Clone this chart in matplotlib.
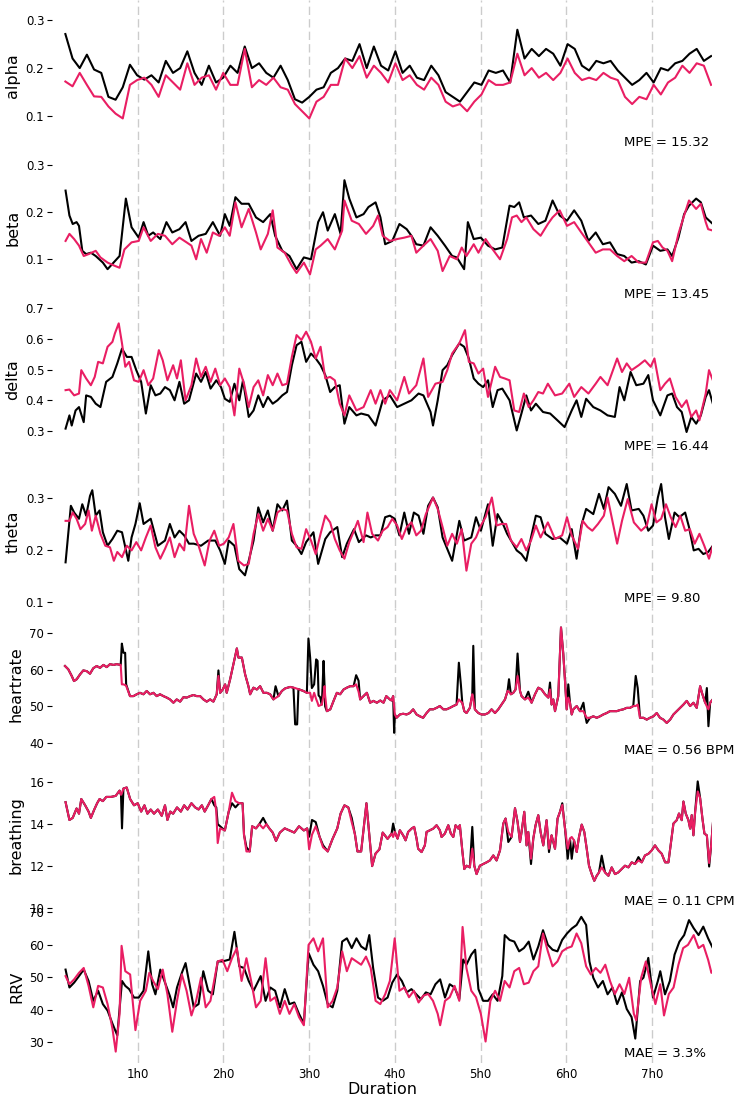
import numpy as np
import matplotlib
matplotlib.use("Agg")
import matplotlib.pyplot as plt

# alpha: one reading every ~5 min, from ~9 min to ~7h41
n_epochs = 91
hours = 0.156 + 0.0837 * np.arange(n_epochs)

alpha_ref = [0.271, 0.22, 0.2, 0.228, 0.197, 0.19, 0.14, 0.134, 0.16, 0.207, 0.185,
             0.176, 0.185, 0.17, 0.215, 0.19, 0.2, 0.235, 0.19, 0.165, 0.205, 0.17,
             0.18, 0.205, 0.19, 0.245, 0.2, 0.21, 0.19, 0.18, 0.205, 0.175, 0.135,
             0.128, 0.14, 0.155, 0.16, 0.19, 0.2, 0.22, 0.215, 0.25, 0.2, 0.245,
             0.205, 0.195, 0.235, 0.19, 0.205, 0.18, 0.175, 0.205, 0.185, 0.15, 0.14,
             0.13, 0.15, 0.17, 0.165, 0.195, 0.19, 0.195, 0.17, 0.28, 0.22, 0.24,
             0.225, 0.24, 0.23, 0.205, 0.25, 0.24, 0.205, 0.195, 0.215, 0.21, 0.215,
             0.195, 0.18, 0.165, 0.175, 0.19, 0.17, 0.2, 0.195, 0.21, 0.215, 0.23,
             0.24, 0.215, 0.225]
alpha_est = [0.172, 0.162, 0.19, 0.165, 0.141, 0.14, 0.12, 0.105, 0.095, 0.165, 0.175,
             0.18, 0.165, 0.14, 0.185, 0.17, 0.155, 0.21, 0.165, 0.18, 0.185, 0.155,
             0.19, 0.165, 0.165, 0.24, 0.16, 0.175, 0.165, 0.18, 0.16, 0.155, 0.125,
             0.11, 0.095, 0.13, 0.14, 0.165, 0.165, 0.22, 0.2, 0.225, 0.18, 0.205,
             0.19, 0.17, 0.21, 0.175, 0.185, 0.165, 0.155, 0.18, 0.165, 0.13, 0.12,
             0.125, 0.11, 0.13, 0.145, 0.175, 0.165, 0.165, 0.17, 0.23, 0.185, 0.2,
             0.18, 0.19, 0.175, 0.19, 0.22, 0.19, 0.175, 0.18, 0.175, 0.19, 0.18,
             0.175, 0.14, 0.125, 0.14, 0.135, 0.165, 0.145, 0.17, 0.18, 0.205, 0.19,
             0.21, 0.205, 0.165]

# beta, delta, theta: irregular breakpoints (minutes)
beta_ref_min = [9.5, 12.2, 14.5, 17.2, 18.9, 21.2, 23.9, 27.2, 30.6, 35.6, 38.9, 44.0,
                47.3, 51.7, 55.7, 60.7, 64.1, 67.4, 70.8, 75.8, 80.1, 84.2, 89.2, 93.5,
                97.6, 102.6, 107.6, 112.6, 117.7, 121.0, 124.4, 128.4, 132.7, 137.7,
                142.8, 147.8, 152.8, 156.2, 161.2, 166.2, 171.2, 176.3, 181.3, 186.3,
                189.7, 193.0, 198.0, 202.0, 204.7, 208.1, 213.1, 218.1, 221.5, 226.5,
                229.9, 233.2, 238.2, 243.2, 248.3, 251.6, 255.0, 260.0, 265.0, 270.0,
                275.1, 280.1, 283.4, 288.5, 291.1, 295.2, 300.2, 305.2, 310.2, 315.2,
                320.3, 323.6, 327.0, 330.3, 335.3, 340.4, 345.4, 350.4, 355.4, 360.5,
                365.5, 370.5, 375.5, 380.6, 385.6, 390.6, 395.6, 400.6, 405.7, 410.7,
                415.7, 420.7, 425.8, 430.8, 434.1, 438.5, 442.5, 445.9, 450.9, 454.2,
                457.6, 462.6]
beta_ref = [0.246, 0.193, 0.175, 0.179, 0.171, 0.118, 0.111, 0.114, 0.107, 0.093, 0.079,
            0.096, 0.107, 0.229, 0.168, 0.146, 0.179, 0.15, 0.157, 0.143, 0.179, 0.157,
            0.164, 0.179, 0.139, 0.15, 0.154, 0.179, 0.15, 0.196, 0.171, 0.232, 0.218,
            0.218, 0.189, 0.179, 0.196, 0.15, 0.118, 0.107, 0.079, 0.104, 0.1, 0.179,
            0.2, 0.161, 0.196, 0.154, 0.268, 0.229, 0.189, 0.196, 0.211, 0.221, 0.189,
            0.132, 0.139, 0.175, 0.164, 0.15, 0.132, 0.129, 0.168, 0.15, 0.129, 0.107,
            0.104, 0.079, 0.179, 0.143, 0.146, 0.129, 0.121, 0.125, 0.214, 0.211, 0.221,
            0.189, 0.193, 0.175, 0.182, 0.225, 0.193, 0.182, 0.204, 0.182, 0.139, 0.157,
            0.132, 0.136, 0.111, 0.107, 0.093, 0.096, 0.089, 0.129, 0.118, 0.121, 0.107,
            0.146, 0.196, 0.214, 0.229, 0.221, 0.189, 0.175]
beta_est_min = [9.5, 12.2, 15.5, 18.9, 22.2, 25.6, 30.6, 33.9, 38.9, 44.0, 47.3, 50.7,
                55.7, 60.7, 64.1, 69.1, 74.1, 79.1, 84.2, 89.2, 94.2, 97.6, 100.9, 104.3,
                108.3, 112.6, 117.0, 121.0, 124.4, 128.4, 132.7, 137.7, 142.8, 146.1,
                151.1, 154.5, 157.8, 162.9, 167.9, 171.2, 176.3, 180.6, 184.6, 188.0,
                193.0, 198.0, 203.1, 204.7, 209.8, 214.8, 219.8, 224.8, 228.2, 231.5,
                236.5, 241.6, 246.6, 251.6, 255.0, 260.0, 265.0, 270.0, 273.4, 278.4,
                283.4, 286.8, 290.1, 295.2, 298.5, 303.5, 308.5, 313.6, 318.6, 322.0,
                325.3, 328.6, 332.0, 337.0, 342.0, 347.1, 350.4, 355.4, 360.5, 365.5,
                370.5, 375.5, 380.6, 385.6, 390.6, 395.6, 400.6, 405.7, 410.7, 415.7,
                420.7, 424.1, 427.4, 430.8, 434.1, 438.5, 442.5, 445.9, 450.9, 454.2,
                457.6, 459.3, 462.6]
beta_est = [0.139, 0.154, 0.143, 0.129, 0.107, 0.111, 0.118, 0.104, 0.093, 0.086, 0.082,
            0.121, 0.136, 0.139, 0.168, 0.139, 0.154, 0.15, 0.132, 0.146, 0.136, 0.129,
            0.1, 0.143, 0.114, 0.157, 0.15, 0.168, 0.15, 0.221, 0.168, 0.207, 0.157,
            0.121, 0.154, 0.204, 0.125, 0.114, 0.086, 0.071, 0.093, 0.068, 0.121, 0.129,
            0.143, 0.121, 0.161, 0.225, 0.182, 0.175, 0.154, 0.171, 0.193, 0.15, 0.139,
            0.143, 0.146, 0.15, 0.114, 0.129, 0.143, 0.118, 0.075, 0.107, 0.1, 0.125,
            0.107, 0.132, 0.114, 0.143, 0.121, 0.1, 0.143, 0.189, 0.193, 0.179, 0.189,
            0.164, 0.15, 0.175, 0.189, 0.204, 0.171, 0.179, 0.157, 0.136, 0.114, 0.121,
            0.121, 0.107, 0.096, 0.107, 0.093, 0.093, 0.136, 0.139, 0.125, 0.118, 0.096,
            0.154, 0.193, 0.225, 0.207, 0.218, 0.179, 0.164, 0.161]

delta_ref_min = [9.5, 12.2, 13.8, 16.5, 18.9, 22.2, 23.9, 27.2, 30.6, 33.9, 37.9, 42.3,
                 45.7, 49.0, 52.4, 55.7, 59.0, 62.4, 65.7, 69.1, 72.4, 75.8, 79.1, 82.5,
                 85.8, 89.2, 92.5, 95.9, 100.9, 104.3, 107.6, 111.0, 115.0, 118.3, 121.0,
                 124.4, 127.7, 131.1, 133.7, 137.7, 141.1, 144.4, 147.8, 151.1, 154.5,
                 157.8, 161.2, 164.5, 167.9, 171.2, 174.6, 177.9, 181.3, 184.6, 188.0,
                 191.3, 194.7, 198.0, 201.4, 204.7, 208.1, 213.1, 216.4, 221.5, 226.5,
                 231.5, 236.5, 241.6, 246.6, 251.6, 256.6, 260.0, 265.0, 266.7, 270.0,
                 273.4, 276.7, 280.1, 285.1, 288.5, 291.8, 295.2, 298.5, 301.8, 305.2,
                 308.5, 311.9, 315.2, 320.3, 325.3, 328.6, 332.0, 335.3, 338.7, 343.7,
                 348.7, 353.8, 358.8, 363.8, 367.2, 370.5, 373.9, 378.9, 383.9, 388.9,
                 394.0, 397.3, 400.6, 405.0, 409.0, 414.0, 417.4, 420.7, 425.8, 430.8,
                 434.1, 437.5, 440.8, 444.2, 447.5, 450.9, 454.2, 457.6, 459.9, 462.6]
delta_ref = [0.308, 0.351, 0.318, 0.367, 0.378, 0.329, 0.416, 0.411, 0.389, 0.378, 0.46,
             0.476, 0.52, 0.568, 0.541, 0.541, 0.498, 0.46, 0.357, 0.449, 0.416, 0.422,
             0.443, 0.433, 0.4, 0.46, 0.389, 0.4, 0.487, 0.46, 0.492, 0.438, 0.465,
             0.443, 0.405, 0.395, 0.454, 0.4, 0.465, 0.346, 0.367, 0.416, 0.378, 0.411,
             0.389, 0.4, 0.416, 0.427, 0.514, 0.579, 0.59, 0.525, 0.552, 0.536, 0.514,
             0.482, 0.427, 0.443, 0.449, 0.324, 0.378, 0.351, 0.357, 0.351, 0.318, 0.4,
             0.416, 0.378, 0.389, 0.4, 0.422, 0.416, 0.362, 0.318, 0.4, 0.498, 0.514,
             0.547, 0.585, 0.574, 0.536, 0.471, 0.454, 0.443, 0.465, 0.378, 0.433, 0.438,
             0.4, 0.302, 0.357, 0.416, 0.367, 0.389, 0.362, 0.357, 0.335, 0.313, 0.367,
             0.4, 0.346, 0.405, 0.378, 0.367, 0.351, 0.346, 0.443, 0.4, 0.492, 0.449,
             0.454, 0.482, 0.4, 0.351, 0.416, 0.422, 0.378, 0.362, 0.297, 0.346, 0.324,
             0.351, 0.411, 0.433, 0.389]
delta_est_min = [9.5, 12.2, 15.5, 18.9, 20.5, 23.9, 27.2, 29.9, 32.3, 35.6, 38.9, 42.3,
                 44.0, 46.7, 49.0, 51.3, 54.0, 57.4, 60.7, 64.1, 67.4, 70.8, 74.8, 77.5,
                 80.8, 84.8, 87.5, 90.2, 93.5, 97.6, 100.9, 104.3, 107.6, 111.0, 114.3,
                 117.7, 121.0, 124.4, 127.7, 131.1, 134.4, 137.7, 141.1, 144.4, 147.8,
                 151.1, 154.5, 157.8, 161.2, 164.5, 167.9, 171.2, 174.6, 177.9, 181.3,
                 184.6, 188.0, 191.3, 194.7, 198.0, 201.4, 204.7, 208.1, 213.1, 218.1,
                 223.1, 226.5, 229.9, 233.2, 236.5, 241.6, 246.6, 249.9, 255.0, 260.0,
                 263.3, 268.4, 273.4, 276.7, 280.1, 285.1, 289.1, 291.8, 295.2, 298.5,
                 301.8, 305.2, 310.2, 313.6, 316.9, 320.3, 323.6, 327.0, 330.3, 333.7,
                 337.0, 340.4, 343.7, 347.1, 352.1, 357.1, 362.1, 365.5, 370.5, 375.5,
                 380.6, 383.9, 388.9, 395.6, 399.0, 402.3, 405.7, 410.7, 415.0, 419.1,
                 421.7, 425.8, 429.1, 432.5, 436.5, 440.8, 444.2, 447.5, 450.9, 453.2,
                 457.6, 459.9, 462.6]
delta_est = [0.433, 0.435, 0.416, 0.422, 0.498, 0.471, 0.449, 0.476, 0.525, 0.52, 0.574,
             0.59, 0.617, 0.65, 0.585, 0.509, 0.525, 0.465, 0.46, 0.498, 0.449, 0.471,
             0.563, 0.53, 0.465, 0.514, 0.471, 0.53, 0.4, 0.449, 0.536, 0.476, 0.509,
             0.46, 0.503, 0.449, 0.471, 0.443, 0.351, 0.503, 0.454, 0.378, 0.443, 0.465,
             0.416, 0.482, 0.449, 0.487, 0.449, 0.454, 0.541, 0.612, 0.596, 0.623, 0.59,
             0.536, 0.574, 0.471, 0.476, 0.465, 0.389, 0.351, 0.416, 0.367, 0.378, 0.433,
             0.389, 0.433, 0.389, 0.433, 0.4, 0.476, 0.422, 0.449, 0.536, 0.411, 0.454,
             0.46, 0.498, 0.552, 0.585, 0.628, 0.525, 0.52, 0.487, 0.503, 0.411, 0.509,
             0.476, 0.471, 0.465, 0.367, 0.362, 0.422, 0.378, 0.4, 0.427, 0.422, 0.454,
             0.416, 0.422, 0.454, 0.411, 0.443, 0.422, 0.454, 0.476, 0.449, 0.536, 0.492,
             0.52, 0.498, 0.514, 0.53, 0.509, 0.536, 0.433, 0.454, 0.471, 0.411, 0.378,
             0.4, 0.346, 0.367, 0.335, 0.422, 0.498, 0.465]

theta_ref_min = [9.5, 13.2, 15.5, 18.9, 21.2, 23.9, 26.6, 28.2, 30.6, 33.3, 35.6, 38.9,
                 42.3, 45.7, 49.0, 53.4, 55.7, 58.4, 61.4, 64.1, 69.1, 74.1, 79.1, 82.5,
                 85.8, 89.2, 92.5, 95.9, 99.2, 104.3, 109.3, 114.3, 117.7, 121.0, 123.7,
                 127.7, 131.1, 135.1, 137.7, 141.1, 144.4, 147.8, 151.1, 154.5, 157.8,
                 161.2, 164.5, 167.9, 171.2, 174.6, 177.9, 183.0, 186.3, 191.3, 194.7,
                 199.7, 203.1, 206.4, 211.4, 214.8, 219.8, 223.1, 226.5, 229.9, 233.2,
                 236.5, 239.9, 243.2, 246.6, 249.9, 253.3, 256.6, 260.0, 263.3, 266.7,
                 270.0, 273.4, 276.7, 280.1, 285.1, 288.5, 293.5, 296.8, 300.2, 305.2,
                 308.5, 311.9, 315.2, 318.6, 322.0, 325.3, 328.6, 332.0, 335.3, 338.7,
                 342.0, 345.4, 350.4, 355.4, 360.5, 363.8, 367.2, 370.5, 373.9, 378.9,
                 382.9, 386.3, 389.6, 394.0, 398.3, 402.3, 405.7, 410.7, 414.0, 417.4,
                 420.7, 424.1, 426.4, 429.1, 431.8, 435.8, 439.2, 443.2, 445.9, 449.2,
                 452.6, 455.9, 459.3, 462.6]
theta_ref = [0.176, 0.285, 0.272, 0.26, 0.288, 0.266, 0.304, 0.315, 0.266, 0.276, 0.234,
             0.208, 0.221, 0.237, 0.234, 0.179, 0.224, 0.25, 0.29, 0.25, 0.26, 0.208,
             0.218, 0.25, 0.224, 0.237, 0.228, 0.212, 0.212, 0.208, 0.218, 0.218, 0.199,
             0.173, 0.218, 0.208, 0.163, 0.151, 0.179, 0.218, 0.282, 0.253, 0.276, 0.237,
             0.288, 0.276, 0.295, 0.218, 0.208, 0.192, 0.215, 0.234, 0.173, 0.221, 0.234,
             0.244, 0.186, 0.212, 0.24, 0.215, 0.228, 0.224, 0.228, 0.228, 0.263, 0.266,
             0.26, 0.228, 0.272, 0.231, 0.272, 0.266, 0.231, 0.285, 0.301, 0.282, 0.224,
             0.202, 0.179, 0.256, 0.218, 0.224, 0.263, 0.237, 0.288, 0.208, 0.269, 0.253,
             0.231, 0.215, 0.199, 0.192, 0.179, 0.224, 0.266, 0.263, 0.231, 0.221, 0.224,
             0.212, 0.24, 0.183, 0.247, 0.279, 0.269, 0.308, 0.279, 0.321, 0.308, 0.285,
             0.327, 0.276, 0.279, 0.266, 0.237, 0.247, 0.301, 0.327, 0.263, 0.221, 0.272,
             0.263, 0.272, 0.244, 0.199, 0.202, 0.192, 0.196, 0.208]
theta_est_min = [9.5, 12.2, 14.5, 17.2, 19.9, 23.2, 25.6, 27.9, 30.6, 33.9, 37.3, 40.6,
                 43.3, 45.7, 49.0, 52.4, 55.7, 59.0, 62.4, 65.7, 69.1, 72.4, 75.8, 79.1,
                 82.5, 85.8, 89.2, 92.5, 95.9, 99.2, 102.6, 106.9, 110.3, 113.6, 117.0,
                 120.3, 123.7, 127.0, 130.4, 134.4, 137.7, 141.1, 144.4, 147.8, 151.1,
                 154.5, 157.8, 161.2, 164.5, 167.9, 171.2, 174.6, 177.9, 181.3, 184.6,
                 188.0, 191.3, 194.7, 198.0, 201.4, 204.7, 208.1, 211.4, 214.1, 218.1,
                 220.8, 224.1, 228.2, 231.5, 234.9, 238.2, 241.6, 244.9, 248.3, 251.6,
                 255.0, 258.3, 261.7, 266.7, 270.0, 273.4, 276.7, 280.1, 283.4, 286.8,
                 290.1, 293.5, 296.8, 300.2, 303.5, 307.9, 311.2, 314.6, 317.9, 321.3,
                 325.3, 328.6, 332.0, 335.3, 338.7, 342.0, 347.1, 352.1, 357.1, 360.5,
                 363.8, 368.2, 371.5, 374.9, 378.2, 382.2, 386.3, 388.9, 392.3, 395.6,
                 399.0, 403.0, 407.3, 412.4, 416.4, 419.7, 423.1, 426.4, 429.8, 433.1,
                 436.5, 439.8, 443.2, 446.5, 449.9, 453.2, 456.6, 459.9, 462.6]
theta_est = [0.256, 0.256, 0.272, 0.26, 0.24, 0.25, 0.276, 0.237, 0.266, 0.231, 0.208,
             0.205, 0.179, 0.196, 0.186, 0.208, 0.199, 0.215, 0.199, 0.224, 0.247, 0.205,
             0.183, 0.202, 0.224, 0.186, 0.212, 0.199, 0.285, 0.231, 0.208, 0.17, 0.218,
             0.237, 0.208, 0.212, 0.224, 0.25, 0.179, 0.17, 0.173, 0.231, 0.269, 0.237,
             0.26, 0.237, 0.272, 0.279, 0.276, 0.231, 0.205, 0.202, 0.24, 0.218, 0.192,
             0.231, 0.266, 0.253, 0.221, 0.199, 0.183, 0.215, 0.237, 0.256, 0.215, 0.272,
             0.231, 0.218, 0.237, 0.244, 0.26, 0.247, 0.221, 0.244, 0.253, 0.228, 0.237,
             0.269, 0.301, 0.279, 0.244, 0.208, 0.231, 0.212, 0.24, 0.16, 0.212, 0.224,
             0.247, 0.263, 0.301, 0.247, 0.25, 0.25, 0.218, 0.205, 0.221, 0.199, 0.218,
             0.247, 0.224, 0.253, 0.221, 0.228, 0.263, 0.228, 0.202, 0.256, 0.244, 0.237,
             0.25, 0.266, 0.301, 0.256, 0.212, 0.256, 0.298, 0.253, 0.237, 0.247, 0.288,
             0.253, 0.26, 0.288, 0.263, 0.244, 0.266, 0.237, 0.24, 0.212, 0.231, 0.208,
             0.183, 0.208]

# heart rate: irregular breakpoints (minutes) so narrow spikes stay narrow
hr_min = [9.1, 11.4, 13.8, 15.4, 17.3, 19.6, 21.9, 24.3, 26.6, 28.9, 31.3, 33.6, 36.0,
          38.3, 40.6, 43.0, 45.3, 48.1, 48.9, 50.0, 51.2, 51.9, 54.6, 57.0, 59.3, 61.6,
          64.0, 66.3, 68.6, 71.0, 73.3, 75.6, 78.0, 80.3, 82.6, 85.0, 87.3, 89.7, 92.0,
          94.3, 96.7, 99.0, 101.3, 103.7, 106.0, 108.3, 110.7, 113.0, 115.3, 116.5, 117.7,
          119.5, 121.2, 122.3, 124.7, 127.0, 129.4, 130.5, 132.9, 135.2, 137.5, 138.7,
          141.0, 143.4, 145.7, 148.0, 150.4, 152.7, 155.0, 156.5, 158.5, 160.9, 163.2,
          166.7, 169.0, 170.2, 171.6, 172.5, 176.0, 178.4, 179.5, 180.7, 181.9, 183.5,
          184.9, 185.9, 186.6, 187.7, 188.9, 190.1, 190.8, 191.2, 192.4, 194.8, 197.1,
          199.4, 201.7, 204.1, 206.4, 208.7, 211.1, 212.9, 214.6, 215.7, 218.1, 220.4,
          222.7, 225.0, 227.4, 229.8, 232.1, 234.0, 236.5, 237.7, 238.8, 239.5, 240.0,
          241.2, 243.5, 245.8, 248.2, 250.5, 252.8, 255.2, 257.5, 259.8, 262.2, 264.5,
          266.9, 269.2, 271.5, 273.9, 276.2, 278.5, 280.9, 283.2, 284.8, 286.2, 287.2,
          288.6, 290.2, 292.5, 294.2, 294.9, 296.0, 298.4, 300.7, 303.0, 305.4, 307.7,
          310.1, 312.4, 314.7, 317.1, 318.9, 319.9, 321.2, 322.9, 324.5, 325.9, 327.6,
          328.7, 331.1, 333.4, 335.7, 338.1, 340.4, 342.7, 345.1, 347.4, 348.6, 349.7,
          350.9, 352.1, 354.4, 356.3, 357.9, 359.1, 360.3, 361.4, 362.6, 363.8, 364.9,
          367.3, 369.6, 372.0, 373.1, 374.3, 376.6, 378.9, 381.3, 383.6, 385.9, 388.3,
          390.6, 392.9, 395.3, 397.6, 399.9, 402.3, 404.6, 406.9, 408.6, 410.0, 411.6,
          414.0, 416.3, 418.6, 421.0, 423.3, 425.6, 428.0, 430.3, 432.7, 435.0, 437.3,
          439.7, 442.0, 444.3, 446.7, 449.0, 451.3, 453.7, 455.3, 457.2, 458.4, 459.5,
          460.7, 462.5, 464.2]
hr_est = [61.0, 60.1, 58.3, 56.9, 57.4, 58.7, 59.8, 59.6, 58.9, 60.4, 61.0, 60.5, 61.3,
          60.7, 61.5, 61.3, 61.5, 61.3, 56.0, 56.0, 55.8, 55.6, 52.8, 52.8, 53.3, 53.7,
          53.3, 54.2, 53.3, 53.7, 52.8, 53.3, 52.8, 52.4, 51.9, 51.0, 51.9, 51.3, 52.5,
          52.4, 52.8, 53.1, 52.8, 52.8, 51.9, 51.3, 51.9, 51.3, 53.3, 58.3, 53.7,
          54.6, 56.0, 53.7, 57.4, 61.5, 65.8, 63.3, 63.3, 58.7, 55.5, 53.3,
          55.1, 54.6, 55.5, 53.7, 53.7, 53.3, 51.9, 52.3, 52.8, 54.2, 54.9,
          55.3, 55.1, 55.0, 54.8, 54.7, 54.2, 53.7, 53.7, 53.7, 51.5, 53.7,
          52.0, 51.0, 50.1, 50.3, 50.5, 53.0, 55.5, 53.0, 48.7, 49.2, 51.5,
          53.7, 53.3, 54.6, 55.1, 55.5, 55.5, 56.0, 54.0, 51.9, 52.8, 53.7,
          51.0, 51.5, 51.0, 51.6, 51.0, 52.8, 51.9, 51.6, 52.8, 50.0, 47.8,
          46.9, 47.8, 48.0, 47.8, 48.2, 49.2, 47.8, 47.3, 46.9, 48.2, 49.2,
          49.2, 49.6, 50.1, 49.2, 49.2, 49.6, 50.1, 50.5, 51.9, 51.3, 51.0,
          48.7, 48.2, 49.6, 53.3, 52.0, 49.2, 48.2, 47.8, 47.8, 48.2, 49.2,
          48.2, 49.2, 50.5, 51.9, 54.2, 54.0, 53.3, 53.7, 54.6, 58.3, 54.2,
          52.8, 51.9, 52.4, 51.0, 53.3, 55.1, 54.6, 53.3, 52.4, 54.6, 50.5,
          51.9, 48.7, 52.8, 71.5, 64.3, 57.0, 49.2, 52.4, 51.0, 47.8, 49.2,
          50.1, 48.7, 48.7, 47.8, 46.9, 46.9, 47.3, 46.9, 47.3, 47.8, 48.2,
          48.7, 48.7, 48.7, 49.0, 49.2, 49.6, 49.6, 50.1, 50.1, 50.5, 46.9,
          46.9, 46.4, 46.9, 47.3, 48.2, 46.9, 46.4, 45.5, 46.4, 47.8, 48.7,
          49.6, 50.5, 51.5, 50.1, 51.0, 49.6, 55.5, 53.3, 51.0, 50.0, 49.2,
          51.0, 51.9, 51.0]
hr_ref = [61.0, 60.1, 58.3, 56.9, 57.4, 58.7, 59.8, 59.6, 58.9, 60.4, 61.0, 60.5, 61.3,
          60.7, 61.5, 61.3, 61.5, 61.3, 67.1, 64.6, 64.6, 56.0, 52.8, 52.8, 53.3, 53.7,
          53.3, 54.2, 53.3, 53.7, 52.8, 53.3, 52.8, 52.4, 51.9, 51.0, 51.9, 51.3, 52.5,
          52.4, 52.8, 53.1, 52.8, 52.8, 51.9, 51.3, 51.9, 51.3, 53.3, 59.8, 53.7,
          54.6, 56.0, 53.7, 57.4, 61.5, 65.8, 63.3, 63.3, 58.7, 55.5, 53.3,
          55.1, 54.6, 55.5, 53.7, 53.7, 53.3, 51.9, 55.5, 52.8, 54.2, 54.9,
          55.3, 55.1, 45.1, 45.1, 54.7, 54.2, 53.7, 68.5, 63.3, 55.0, 56.0,
          62.8, 62.4, 53.0, 52.5, 50.5, 62.4, 55.5, 50.0, 48.7, 49.2, 51.5,
          53.7, 53.3, 54.6, 55.1, 55.5, 55.5, 58.5, 57.0, 51.9, 52.8, 53.7,
          51.0, 51.5, 51.0, 51.6, 51.0, 52.8, 51.9, 51.6, 52.8, 42.8, 47.8,
          46.9, 47.8, 48.0, 47.8, 48.2, 49.2, 47.8, 47.3, 46.9, 48.2, 49.2,
          49.2, 49.6, 50.1, 49.2, 49.2, 49.6, 50.1, 50.5, 61.9, 56.0, 51.0,
          48.7, 48.2, 49.6, 53.3, 66.5, 49.2, 48.2, 47.8, 47.8, 48.2, 49.2,
          48.2, 49.2, 50.5, 51.9, 54.2, 57.4, 53.3, 53.7, 54.6, 64.4, 54.2,
          52.8, 51.9, 54.0, 51.0, 53.3, 55.1, 54.6, 53.3, 52.4, 56.5, 50.5,
          51.9, 48.7, 52.8, 71.5, 64.3, 57.0, 49.2, 56.0, 51.0, 47.8, 49.2,
          50.1, 48.7, 51.0, 47.8, 45.5, 46.9, 47.3, 46.9, 47.3, 47.8, 48.2,
          48.7, 48.7, 48.7, 49.0, 49.2, 49.6, 49.6, 50.1, 58.3, 55.0, 46.9,
          46.9, 46.4, 46.9, 47.3, 48.2, 46.9, 46.4, 45.5, 46.4, 47.8, 48.7,
          49.6, 50.5, 51.5, 50.1, 51.0, 49.6, 55.5, 53.3, 51.0, 55.0, 44.6,
          51.0, 51.9, 51.0]

# breathing rate: irregular breakpoints (minutes)
br_min = [9.5, 12.2, 14.5, 17.2, 18.9, 20.5, 23.2, 25.6, 27.2, 29.6, 31.6, 33.3, 35.6,
          38.0, 41.3, 44.6, 47.3, 48.3, 49.0, 50.0, 52.3, 54.7, 57.4, 60.0, 62.4, 64.7,
          66.8, 69.1, 71.4, 74.1, 76.8, 79.1, 80.8, 82.8, 84.8, 87.5, 90.2, 92.5, 94.9,
          97.6, 100.2, 102.6, 104.9, 106.9, 109.3, 111.6, 113.6, 115.0, 116.0, 117.7,
          121.0, 123.7, 126.0, 128.4, 131.0, 133.4, 134.4, 136.1, 138.4, 140.1, 142.8,
          145.1, 147.8, 150.1, 152.1, 154.5, 156.8, 159.5, 162.9, 166.2, 169.6, 172.9,
          176.3, 178.6, 180.0, 182.0, 184.6, 187.3, 189.7, 193.0, 196.4, 199.7, 202.0,
          204.7, 207.4, 209.8, 212.1, 213.8, 216.4, 218.8, 220.1, 222.1, 224.1, 226.5,
          229.2, 231.5, 234.9, 237.7, 238.8, 240.0, 241.9, 243.5, 245.8, 247.5, 249.3,
          251.7, 253.5, 255.2, 256.3, 258.7, 261.0, 262.2, 264.5, 266.9, 269.2, 271.5,
          272.7, 275.0, 277.4, 279.2, 280.9, 282.5, 284.4, 285.5, 287.2, 288.6, 290.2,
          292.5, 294.2, 295.6, 297.2, 299.5, 301.9, 304.2, 306.5, 308.9, 311.2, 313.6,
          315.9, 317.5, 319.4, 321.7, 324.1, 325.9, 327.6, 328.7, 330.6, 332.2, 333.4,
          335.3, 336.9, 338.5, 340.4, 342.0, 343.9, 346.2, 347.9, 349.7, 352.1, 353.9,
          355.6, 357.2, 359.1, 361.0, 362.6, 363.8, 365.4, 367.3, 368.9, 370.8, 372.6,
          374.3, 375.9, 377.8, 379.6, 381.3, 382.9, 384.8, 387.1, 389.5, 391.8, 394.1,
          396.4, 398.8, 401.1, 403.5, 405.8, 408.1, 410.5, 412.8, 415.1, 417.5, 419.8,
          422.1, 424.5, 426.8, 429.2, 431.5, 433.3, 435.0, 437.3, 438.9, 440.8, 442.0,
          443.6, 445.5, 446.7, 447.8, 449.0, 450.2, 452.0, 453.7, 455.3, 456.7, 458.4,
          460.0, 461.4, 463.0, 464.2]
br_est = [15.05, 14.2, 14.3, 14.75, 14.5, 15.2, 14.9, 14.6, 14.3, 14.7, 15.0, 15.2, 15.1,
          15.3, 15.3, 15.35, 15.6, 15.4, 15.5, 15.7, 15.75, 15.2, 14.9, 15.0, 14.6, 14.9,
          14.5, 14.7, 14.5, 14.7, 14.4, 14.9, 14.2, 14.6, 14.5, 14.8, 14.6, 14.9, 14.7,
          15.0, 14.8, 14.7, 14.9, 14.6, 14.9, 15.2, 15.3, 14.6, 13.1, 13.8,
          13.7, 14.6, 15.5, 15.1, 15.0, 15.0, 13.5, 12.7, 12.7, 13.9, 13.8,
          14.0, 13.8, 14.0, 13.8, 13.6, 13.2, 13.6, 13.8, 13.7, 13.6, 13.9,
          13.7, 13.8, 12.8, 13.5, 13.9, 13.4, 12.9, 12.7, 13.3, 13.8, 14.5,
          14.9, 14.8, 14.1, 13.5, 12.7, 12.7, 14.2, 15.0, 13.5, 12.0, 12.6,
          12.8, 13.6, 13.3, 13.55, 13.39, 13.63, 13.31, 13.71, 13.47, 13.23, 13.63,
          13.79, 13.87, 13.31, 12.83, 12.67, 12.99, 13.63, 13.71, 13.79, 13.95, 13.71,
          13.39, 13.55, 13.95, 13.55, 13.39, 13.95, 13.79, 13.95, 12.75, 11.86, 12.02,
          11.94, 12.83, 12.02, 11.62, 12.02, 12.10, 12.18, 12.27, 12.51, 12.27, 12.75,
          14.03, 14.27, 13.63, 13.39, 14.76, 14.11, 13.15, 13.63, 14.59, 12.99, 13.63,
          12.35, 13.31, 13.95, 14.43, 13.63, 12.99, 14.19, 12.83, 13.47, 12.83, 14.27,
          14.59, 14.92, 13.79, 12.83, 13.31, 13.39, 13.23, 12.67, 13.39, 13.98, 13.63,
          12.83, 12.02, 11.62, 11.30, 11.54, 11.70, 11.94, 11.70, 11.54, 11.94, 11.62,
          11.70, 11.86, 12.02, 11.94, 12.18, 12.10, 12.27, 12.18, 12.51, 12.59, 12.75,
          12.99, 12.75, 12.59, 12.18, 12.18, 13.15, 14.03, 14.19, 14.51, 14.19, 15.08,
          14.51, 14.19, 13.79, 14.43, 13.47, 14.59, 15.56, 15.24, 14.27, 13.55, 13.47,
          12.15, 12.99, 14.35, 14.11]
br_ref = [15.05, 14.2, 14.3, 14.75, 14.5, 15.2, 14.9, 14.6, 14.3, 14.7, 15.0, 15.2, 15.1,
          15.3, 15.3, 15.35, 15.6, 15.4, 13.8, 15.7, 15.75, 15.2, 14.9, 15.0, 14.6, 14.9,
          14.5, 14.7, 14.5, 14.7, 14.4, 14.9, 14.2, 14.6, 14.5, 14.8, 14.6, 14.9, 14.7,
          15.0, 14.8, 14.7, 14.9, 14.6, 14.9, 15.2, 14.9, 14.8, 14.0, 13.9,
          13.7, 14.6, 15.0, 14.8, 15.0, 15.0, 13.5, 12.9, 12.7, 13.9, 13.8,
          14.0, 14.3, 14.0, 13.8, 13.6, 13.2, 13.6, 13.8, 13.7, 13.6, 13.9,
          13.7, 13.8, 13.4, 14.2, 14.1, 13.4, 13.0, 12.7, 13.3, 13.8, 14.5,
          14.9, 14.8, 14.3, 13.5, 12.7, 12.7, 14.2, 15.0, 13.5, 12.0, 12.6,
          12.8, 13.6, 13.3, 13.55, 14.03, 13.63, 13.31, 13.71, 13.47, 13.23, 13.63,
          13.79, 13.87, 13.31, 12.83, 12.67, 12.99, 13.63, 13.71, 13.79, 13.95, 13.71,
          13.39, 13.55, 13.95, 13.55, 13.39, 13.95, 13.79, 13.95, 12.75, 11.86, 12.02,
          11.94, 13.87, 12.02, 11.62, 12.02, 12.10, 12.18, 12.27, 12.51, 12.27, 12.75,
          14.03, 14.27, 13.15, 13.39, 14.76, 14.11, 13.15, 13.63, 14.59, 12.99, 13.63,
          12.10, 13.31, 13.95, 14.43, 13.63, 12.99, 14.19, 12.67, 13.47, 12.83, 14.27,
          14.59, 15.0, 13.79, 12.35, 13.31, 12.35, 13.23, 12.67, 13.39, 13.98, 13.63,
          12.83, 12.02, 11.62, 11.30, 11.54, 11.70, 12.5, 11.70, 11.54, 11.94, 11.62,
          11.70, 11.86, 12.02, 11.94, 12.18, 12.10, 12.43, 12.18, 12.51, 12.59, 12.75,
          12.99, 12.75, 12.59, 12.18, 12.18, 13.15, 14.03, 14.19, 14.51, 14.19, 15.08,
          14.51, 14.19, 13.79, 14.43, 13.47, 14.59, 16.04, 15.24, 14.27, 13.55, 13.47,
          11.98, 12.99, 14.35, 14.11]

# RRV: irregular breakpoints (minutes), reference and estimate read separately
rrv_ref_min = [9.5, 12.2, 15.5, 18.9, 22.2, 25.6, 28.9, 32.3, 35.6, 38.9, 42.3, 45.7,
               49.0, 51.3, 54.0, 57.4, 60.7, 64.1, 67.4, 70.1, 72.4, 75.8, 79.1, 82.5,
               84.8, 87.5, 90.9, 93.5, 96.9, 99.2, 102.6, 105.9, 109.3, 112.6, 116.0,
               119.3, 124.4, 127.7, 131.1, 134.4, 137.7, 141.1, 146.1, 149.5, 152.8,
               156.2, 159.5, 162.9, 166.2, 169.6, 172.9, 176.3, 179.6, 183.0, 186.3,
               189.7, 193.0, 196.4, 199.7, 203.1, 206.4, 209.8, 213.1, 216.4, 219.8,
               222.1, 224.8, 228.2, 231.5, 234.9, 238.2, 241.6, 244.9, 248.3, 251.6,
               255.0, 258.3, 261.7, 265.0, 268.4, 271.7, 275.1, 278.4, 281.8, 285.1,
               287.8, 290.1, 293.5, 296.2, 298.5, 301.8, 305.2, 308.5, 311.9, 315.2,
               316.9, 320.3, 323.6, 327.0, 330.3, 333.7, 337.0, 340.4, 343.7, 347.1,
               350.4, 353.8, 357.1, 360.5, 363.8, 367.2, 370.5, 373.9, 376.2, 378.9,
               382.2, 385.6, 388.9, 392.3, 395.6, 399.0, 402.3, 405.7, 408.3, 411.7,
               414.0, 417.4, 420.7, 424.1, 425.8, 429.1, 432.5, 435.8, 439.2, 442.5,
               445.9, 449.2, 452.6, 455.9, 459.3, 462.6]
rrv_ref = [52.3, 46.8, 48.3, 50.3, 52.3, 48.8, 42.7, 45.8, 41.7, 39.7, 35.7, 32.1,
           48.8, 47.3, 46.3, 43.7, 43.7, 45.8, 57.9, 47.8, 44.7, 52.3, 48.3, 44.2,
           40.7, 46.8, 51.3, 54.3, 46.3, 40.7, 41.7, 51.8, 45.8, 44.7, 54.8,
           54.8, 55.4, 63.9, 53.3, 52.8, 48.8, 45.8, 50.3, 42.7, 46.8,
           45.8, 40.7, 46.3, 41.7, 42.2, 38.7, 35.7, 57.4, 53.8, 51.8,
           47.3, 41.7, 40.7, 45.8, 60.9, 61.9, 58.9, 61.9, 59.4, 58.4,
           62.9, 52.8, 43.7, 42.7, 43.7, 48.3, 50.8, 48.8, 45.3, 46.3,
           44.7, 43.2, 45.3, 44.7, 47.8, 49.3, 43.7, 47.8, 46.8, 43.2,
           55.4, 53.8, 56.9, 58.4, 46.3, 42.7, 42.7, 44.7, 42.7, 50.3,
           62.9, 61.4, 60.9, 57.9, 58.9, 60.9, 55.4, 59.4, 64.4, 59.9,
           58.4, 57.9, 61.4, 63.4, 64.9, 66.0, 68.5, 66.0, 54.8, 49.8,
           46.8, 48.8, 44.7, 46.8, 41.7, 45.3, 40.2, 37.7, 31.1, 48.8,
           49.8, 55.9, 43.7, 48.8, 51.8, 44.7, 48.8, 56.9, 60.9, 62.9,
           67.5, 65.0, 62.9, 65.5, 61.9, 58.9]
rrv_est_min = [9.5, 12.2, 15.5, 18.9, 22.2, 25.6, 28.9, 32.3, 35.6, 38.9, 42.3, 44.6,
               47.3, 48.7, 51.3, 54.7, 58.4, 61.7, 65.7, 68.1, 70.8, 74.1, 77.5, 80.8,
               84.2, 87.5, 90.9, 94.2, 97.6, 100.9, 104.3, 107.6, 110.9, 116.0, 119.3,
               122.7, 126.0, 129.4, 132.7, 136.1, 139.4, 142.8, 146.1, 149.5, 152.8,
               156.2, 159.5, 162.9, 166.2, 169.6, 172.9, 176.3, 179.6, 183.0, 186.3,
               189.7, 193.0, 196.4, 199.7, 203.1, 206.4, 209.8, 213.1, 216.4, 219.8,
               223.1, 226.5, 229.8, 233.2, 236.5, 239.9, 243.2, 246.6, 249.9, 253.3,
               256.6, 260.0, 263.3, 266.7, 270.0, 271.7, 275.1, 278.4, 281.8, 285.1,
               287.4, 290.1, 293.5, 296.8, 300.2, 303.5, 306.9, 310.2, 313.6, 316.9,
               320.3, 323.6, 327.0, 330.3, 333.7, 337.0, 340.4, 343.7, 347.1, 350.4,
               353.8, 357.1, 360.5, 363.8, 367.2, 370.5, 373.9, 377.2, 380.6, 383.9,
               387.3, 390.6, 394.0, 397.3, 400.7, 404.0, 407.3, 409.0, 412.4, 415.7,
               419.1, 422.4, 425.8, 428.4, 431.8, 435.1, 438.5, 441.8, 445.2, 449.2,
               452.6, 455.9, 459.3, 461.6, 462.6]
rrv_est = [50.3, 47.8, 49.3, 51.3, 52.8, 47.3, 40.7, 47.3, 46.8, 41.7, 34.2, 27.1,
           38.7, 59.6, 51.8, 50.8, 33.7, 42.7, 45.8, 51.3, 48.8, 46.3, 52.3, 44.7,
           33.2, 42.7, 50.8, 45.8, 38.2, 42.7, 49.8, 40.7, 42.7, 54.8, 55.3,
           51.8, 55.8, 58.9, 48.8, 55.8, 48.8, 40.7, 42.7, 55.8, 42.7,
           43.8, 38.7, 42.7, 38.7, 41.7, 37.7, 35.2, 59.9, 61.9, 57.9,
           61.9, 40.7, 42.7, 46.8, 57.9, 51.8, 55.8, 54.8, 53.8, 56.3,
           52.8, 42.7, 41.7, 44.7, 48.8, 61.9, 45.8, 46.8, 43.8, 45.8,
           42.2, 44.3, 44.8, 42.7, 38.7, 35.2, 42.7, 43.8, 47.3, 42.7,
           65.4, 52.8, 45.8, 43.8, 38.7, 30.2, 42.7, 45.8, 42.7, 48.8,
           46.8, 51.8, 52.8, 47.8, 48.3, 51.8, 53.3, 63.4, 57.9, 53.3,
           54.8, 57.9, 58.9, 59.4, 63.4, 60.4, 53.3, 50.8, 52.8, 51.3,
           53.8, 48.8, 44.8, 47.8, 44.8, 49.8, 38.7, 36.7, 49.8, 54.8,
           47.8, 41.7, 47.8, 38.2, 44.8, 46.8, 53.8, 58.9, 59.9, 62.9,
           58.9, 59.9, 55.3, 51.3, 51.8]

to_h = lambda m: np.array(m) / 60.0

panels = [
    ("alpha", hours, alpha_ref, hours, alpha_est, "MPE = 15.32", (0.025, 0.342), [0.1, 0.2, 0.3], "{:.1f}"),
    ("beta", to_h(beta_ref_min), beta_ref, to_h(beta_est_min), beta_est, "MPE = 13.45", (0.005, 0.328), [0.1, 0.2, 0.3], "{:.1f}"),
    ("delta", to_h(delta_ref_min), delta_ref, to_h(delta_est_min), delta_est, "MPE = 16.44", (0.219, 0.713), [0.3, 0.4, 0.5, 0.6, 0.7], "{:.1f}"),
    ("theta", to_h(theta_ref_min), theta_ref, to_h(theta_est_min), theta_est, "MPE = 9.80", (0.088, 0.381), [0.1, 0.2, 0.3], "{:.1f}"),
    ("heartrate", to_h(hr_min), hr_ref, to_h(hr_min), hr_est, "MAE = 0.56 BPM", (35.4, 76.8), [40, 50, 60, 70], "{:.0f}"),
    ("breathing", to_h(br_min), br_ref, to_h(br_min), br_est, "MAE = 0.11 CPM", (9.86, 17.06), [10, 12, 14, 16], "{:.0f}"),
    ("RRV", to_h(rrv_ref_min), rrv_ref, to_h(rrv_est_min), rrv_est, "MAE = 3.3%", (23.6, 70.3), [30, 40, 50, 60, 70], "{:.0f}"),
]
hour_ticks = [1, 2, 3, 4, 5, 6, 7]
hour_labels = ["1h0", "2h0", "3h0", "4h0", "5h0", "6h0", "7h0"]

REF_C = "#000000"
EST_C = "#E91E63"

W, H = 750, 1099
fig = plt.figure(figsize=(W / 100, H / 100), dpi=100)
left, right = 52, 712
tops = [0, 152, 304, 456, 608, 760, 911, 1063]
axes = []
for k, (name, t_ref, ref, t_est, est, note, ylim, yt, fmt) in enumerate(panels):
    y0, y1 = tops[k], tops[k + 1]
    ax = fig.add_axes([left / W, 1 - y1 / H, (right - left) / W, (y1 - y0) / H],
                      sharex=axes[0] if axes else None)
    ax.patch.set_alpha(0)
    ax.plot(t_ref, ref, color=REF_C, lw=1.5, zorder=3)
    ax.plot(t_est, est, color=EST_C, lw=1.5, zorder=4)
    for s in ax.spines.values():
        s.set_visible(False)
    ax.set_ylim(*ylim)
    ax.set_yticks(yt)
    ax.set_yticklabels([fmt.format(v) for v in yt])
    ax.tick_params(axis="y", labelsize=8.5, length=3.5, width=0.8, pad=2)
    ax.tick_params(axis="x", length=0, labelsize=8.5)
    ax.set_ylabel(name, fontsize=11.5, labelpad=4)
    ax.grid(axis="x", color="#cccccc", ls=(0, (6, 3)), lw=1.0)
    ax.grid(axis="y", visible=False)
    ax.text((624 - left) / (right - left), 0.06, note, transform=ax.transAxes,
            fontsize=9.5, va="center", ha="left")
    axes.append(ax)

axes[0].set_xlim(0, 7.7)
axes[0].set_xticks(hour_ticks)
for ax in axes[:-1]:
    ax.tick_params(axis="x", labelbottom=False)
axes[-1].set_xticklabels(hour_labels)
axes[-1].set_xlabel("Duration", fontsize=11.5, labelpad=1)

fig.savefig("out.png", dpi=100)
